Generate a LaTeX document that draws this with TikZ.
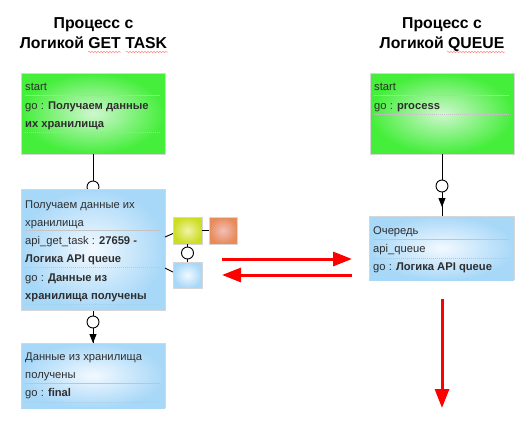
\documentclass[tikz,border=0pt]{standalone}
\usepackage{fontspec}
\setmainfont{Liberation Sans}
\usetikzlibrary{arrows.meta,decorations.pathmorphing}
\definecolor{gedge}{HTML}{44EE3A}
\definecolor{gcore}{HTML}{CFF7CF}
\definecolor{bedge}{HTML}{A8D8F8}
\definecolor{bcore}{HTML}{F2F9FF}
\definecolor{yedge}{HTML}{CCDD22}
\definecolor{ycore}{HTML}{F2F2A8}
\definecolor{oedge}{HTML}{E88A5A}
\definecolor{ocore}{HTML}{F2BFB8}
\definecolor{txt}{HTML}{2E2E2E}
\definecolor{arrred}{HTML}{FF0000}
\definecolor{sepc}{HTML}{C4C4C4}
\begin{document}
\begin{tikzpicture}[x=1pt,y=-1pt,
  box/.style={anchor=north west, inner sep=0pt, outer sep=0pt},
  rim/.style={draw=black!16, line width=0.9pt},
  gbox/.style={box, rim, inner color=gcore, outer color=gedge},
  bbox/.style={box, rim, inner color=bcore, outer color=bedge},
  bcut/.style={box, inner color=bcore, outer color=bedge},
  ybox/.style={box, rim, inner color=ycore, outer color=yedge},
  obox/.style={box, rim, inner color=ocore, outer color=oedge},
  lbl/.style={anchor=base west, inner sep=0pt, font=\fontsize{11.2}{13}\selectfont, text=txt},
  ttl/.style={anchor=base, inner sep=0pt, font=\fontsize{15.8}{18}\selectfont\bfseries, text=black},
  sepl/.style={draw=sepc, line width=0.8pt},
  sepd/.style={draw=sepc, line width=0.8pt, dash pattern=on 1pt off 1pt},
  conn/.style={draw=black, line width=0.9pt},
  ring/.style={circle, draw=black, line width=0.9pt, fill=white, minimum size=12pt, inner sep=0pt},
  tipb/.style={-{Triangle[length=9pt,width=7pt]}},
  redarr/.style={draw=arrred, line width=3pt, -{Triangle[length=19pt,width=14pt]}},
  squig/.style={draw=red!45, line width=0.5pt, decorate, decoration={snake, amplitude=0.8pt, segment length=3pt}}
]
\useasboundingbox (0,0) rectangle (528,426);

% titles
\node[ttl] (t1a) at (93.5,28) {Процесс с};
\node[ttl] (t1b) at (93.5,48) {Логикой GET TASK};
\node[ttl] (t2a) at (442,28) {Процесс с};
\node[ttl] (t2b) at (442,48) {Логикой QUEUE};
\draw[squig] (88,52) -- (121,52);
\draw[squig] (126,52) -- (168,52);
\draw[squig] (447,52) -- (505,52);

% coordinates for connectors
\coordinate (c1) at (93,187);
\coordinate (c2) at (442,186);
\coordinate (c3) at (93,322);
\coordinate (c4) at (187.5,253);
\coordinate (t2) at (442,207);

% boxes (geometry)
\path (21,73) node[gbox, minimum width=144pt, minimum height=81pt] (g1) {};
\path (370,73) node[gbox, minimum width=144pt, minimum height=81pt] (g2) {};
\path (21,343) node[bcut, minimum width=144pt, minimum height=65pt] (b3) {};
\path (369,216) node[bcut, minimum width=145pt, minimum height=64pt] (b2) {};

% connectors
\draw[conn] (g1.south) -- (b3.north -| g1.south);
\draw[conn] (g2.south) -- (b2.north -| g2.south);
\node[ring] (r1) at (c1) {};
\node[ring] (r2) at (c2) {};
\node[ring] (r3) at (c3) {};
\draw[conn, tipb] (r2.south) -- (t2);
\draw[conn, tipb] (r3.south) -- (b3.north -| r3.south);

\path (21,189) node[bbox, minimum width=144pt, minimum height=121pt] (b1) {};
\draw[rim] (b3.south west) -- (b3.north west) -- (b3.north east) -- (b3.south east);
\draw[rim] (b2.south west) -- (b2.north west) -- (b2.north east) -- (b2.south east);

% small squares
\path (173,217) node[ybox, minimum width=29pt, minimum height=27pt] (yl) {};
\path (209,217) node[obox, minimum width=28pt, minimum height=27pt] (or) {};
\path (173,262) node[bbox, minimum width=29pt, minimum height=26pt] (lb) {};
\draw[conn] ([yshift=12.5pt]b1.east) -- ([yshift=-3pt]yl.west);
\draw[conn] ([yshift=-18.5pt]b1.east) -- ([yshift=3pt]lb.west);
\draw[conn] (yl.east) -- (or.west);
\draw[conn] (yl.south) -- (lb.north);
\node[ring] (r4) at (c4) {};

% texts: green left
\node[lbl] (g1l1) at (25,90) {start};
\draw[sepl] (25,95) -- (160,95);
\node[lbl] (g1l2) at (25,109) {go : \textbf{Получаем данные}};
\node[lbl] (g1l3) at (25,127) {\textbf{их хранилища}};
\draw[sepd] (25,132) -- (160,132);

% green right
\node[lbl] (g2l1) at (374,90) {start};
\draw[sepl] (374,95) -- (509,95);
\node[lbl] (g2l2) at (374,109) {go : \textbf{process}};
\draw[sepd] (374,114) -- (509,114);

% blue left 1
\node[lbl] (b1l1) at (25,208) {Получаем данные их};
\node[lbl] (b1l2) at (25,226) {хранилища};
\draw[sepl] (25,230) -- (160,230);
\node[lbl] (b1l3) at (25,244) {api\_get\_task : \textbf{27659 -}};
\node[lbl] (b1l4) at (25,262) {\textbf{Логика API queue}};
\draw[sepd] (25,267) -- (160,267);
\node[lbl] (b1l5) at (25,281) {go : \textbf{Данные из}};
\node[lbl] (b1l6) at (25,299) {\textbf{хранилища получены}};
\draw[sepd] (25,304) -- (160,304);

% blue left 2
\node[lbl] (b3l1) at (25,360) {Данные из хранилища};
\node[lbl] (b3l2) at (25,378) {получены};
\draw[sepl] (25,383) -- (160,383);
\node[lbl] (b3l3) at (25,396) {go : \textbf{final}};
\draw[sepd] (25,402) -- (160,402);

% blue right
\node[lbl] (b2l1) at (373,234) {Очередь};
\draw[sepl] (373,239) -- (509,239);
\node[lbl] (b2l2) at (373,252) {api\_queue};
\draw[sepd] (373,258) -- (509,258);
\node[lbl] (b2l3) at (373,270) {go : \textbf{Логика API queue}};

% red arrows
\coordinate (ra1) at (222,259);
\coordinate (ra2) at (352,259);
\coordinate (rb1) at (352,275);
\coordinate (rb2) at (222,275);
\coordinate (rc1) at (442,299);
\coordinate (rc2) at (442,408);
\draw[redarr] (ra1) -- (ra2);
\draw[redarr] (rb1) -- (rb2);
\draw[redarr] (rc1) -- (rc2);
\end{tikzpicture}
\end{document}
